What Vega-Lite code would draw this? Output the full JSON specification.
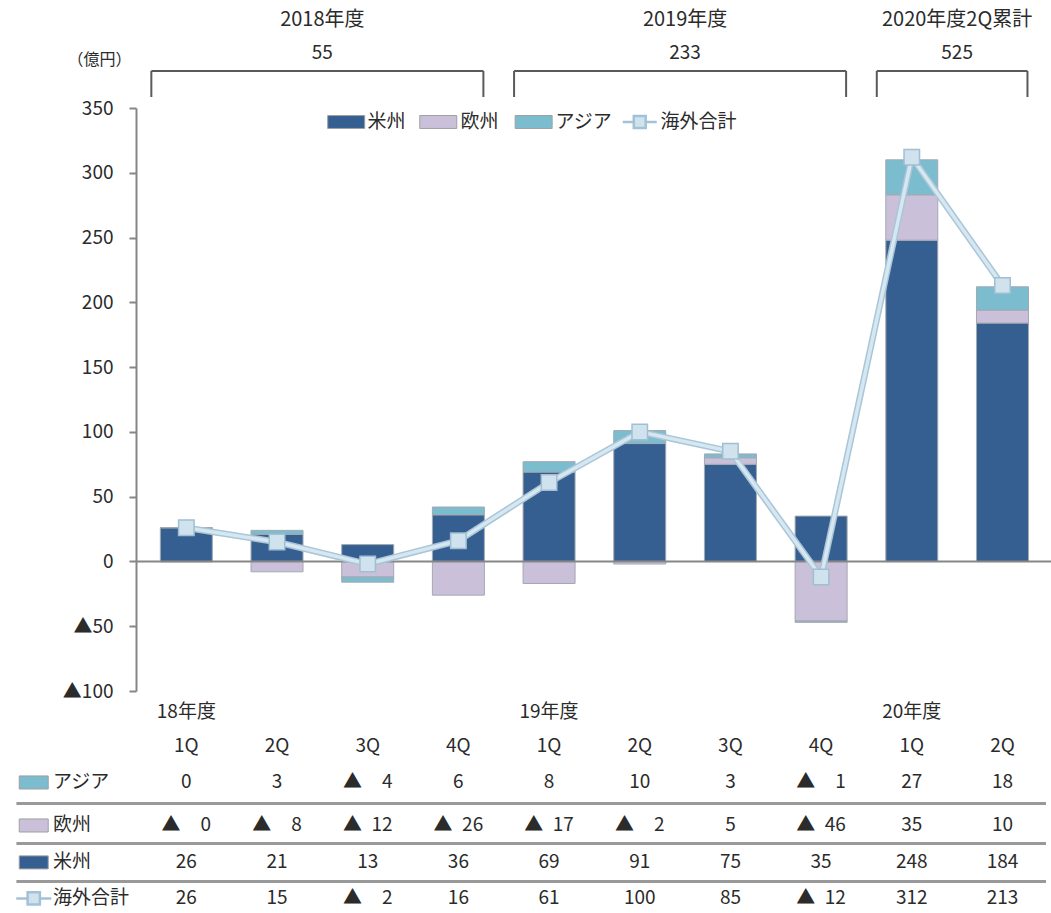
{
  "$schema": "https://vega.github.io/schema/vega-lite/v6.json",
  "width": 915,
  "height": 583,
  "autosize": {"type": "none"},
  "padding": {"left": 136, "top": 108, "right": 0, "bottom": 222},
  "background": "white",
  "config": {
    "font": "Noto Sans CJK JP",
    "view": {"stroke": null},
    "text": {"font": "Noto Sans CJK JP", "fontSize": 19, "color": "#2b2b2b", "baseline": "middle"}
  },
  "datasets": {
    "bars": [
      {"q": 1, "region": "米州", "value": 26}, {"q": 1, "region": "欧州", "value": -0.3}, {"q": 1, "region": "アジア", "value": 0},
      {"q": 2, "region": "米州", "value": 21}, {"q": 2, "region": "欧州", "value": -8}, {"q": 2, "region": "アジア", "value": 3},
      {"q": 3, "region": "米州", "value": 13}, {"q": 3, "region": "欧州", "value": -12}, {"q": 3, "region": "アジア", "value": -4},
      {"q": 4, "region": "米州", "value": 36}, {"q": 4, "region": "欧州", "value": -26}, {"q": 4, "region": "アジア", "value": 6},
      {"q": 5, "region": "米州", "value": 69}, {"q": 5, "region": "欧州", "value": -17}, {"q": 5, "region": "アジア", "value": 8},
      {"q": 6, "region": "米州", "value": 91}, {"q": 6, "region": "欧州", "value": -2}, {"q": 6, "region": "アジア", "value": 10},
      {"q": 7, "region": "米州", "value": 75}, {"q": 7, "region": "欧州", "value": 5}, {"q": 7, "region": "アジア", "value": 3},
      {"q": 8, "region": "米州", "value": 35}, {"q": 8, "region": "欧州", "value": -46}, {"q": 8, "region": "アジア", "value": -1},
      {"q": 9, "region": "米州", "value": 248}, {"q": 9, "region": "欧州", "value": 35}, {"q": 9, "region": "アジア", "value": 27},
      {"q": 10, "region": "米州", "value": 184}, {"q": 10, "region": "欧州", "value": 10}, {"q": 10, "region": "アジア", "value": 18}
    ],
    "total": [
      {"q": 1, "label": "1Q", "value": 26},
      {"q": 2, "label": "2Q", "value": 15},
      {"q": 3, "label": "3Q", "value": -2},
      {"q": 4, "label": "4Q", "value": 16},
      {"q": 5, "label": "1Q", "value": 61},
      {"q": 6, "label": "2Q", "value": 100},
      {"q": 7, "label": "3Q", "value": 85},
      {"q": 8, "label": "4Q", "value": -12},
      {"q": 9, "label": "1Q", "value": 312},
      {"q": 10, "label": "2Q", "value": 213}
    ],
    "periods": [
      {"period": "2018年度", "total": 55, "fy": "18年度", "start": 1, "end": 4},
      {"period": "2019年度", "total": 233, "fy": "19年度", "start": 5, "end": 8},
      {"period": "2020年度2Q累計", "total": 525, "fy": "20年度", "start": 9, "end": 10}
    ],
    "rows": [
      {"name": "アジア"}, {"name": "欧州"}, {"name": "米州"}, {"name": "海外合計"}
    ]
  },
  "layer": [
    {
      "data": {"name": "bars"},
      "transform": [{"calculate": "indexof(['米州','欧州','アジア'], datum.region)", "as": "k"}],
      "mark": {"type": "bar", "size": 52, "orient": "vertical", "stroke": "#a3a9b0", "strokeWidth": 1},
      "encoding": {
        "x": {"field": "q", "type": "quantitative", "scale": {"domain": [0.5, 10.48], "nice": false, "zero": false}, "axis": null},
        "y": {
          "field": "value", "type": "quantitative", "stack": "zero",
          "scale": {"domain": [-100, 350], "nice": false, "zero": false},
          "axis": {
            "values": [-100, -50, 0, 50, 100, 150, 200, 250, 300, 350],
            "labelExpr": "datum.value < 0 ? '▲' + (-datum.value) : datum.label",
            "grid": false, "domainColor": "#868686", "domainWidth": 2,
            "tickColor": "#868686", "tickWidth": 2, "tickSize": 7,
            "labelFontSize": 19, "labelColor": "#2b2b2b", "labelPadding": 16,
            "title": "（億円）", "titleAngle": 0, "titleX": -37, "titleY": -49,
            "titleAlign": "center", "titleBaseline": "middle", "titleFontSize": 16,
            "titleFontWeight": "normal", "titleColor": "#2b2b2b"
          }
        },
        "color": {
          "field": "region", "type": "nominal",
          "scale": {"domain": ["米州", "欧州", "アジア"], "range": ["#365f91", "#cbc0d9", "#7bbccf"]},
          "legend": null
        },
        "order": {"field": "k", "type": "quantitative"}
      }
    },
    {
      "data": {"name": "total"},
      "transform": [{"filter": "datum.q === 1"}],
      "mark": {"type": "rule", "color": "#868686", "strokeWidth": 2},
      "encoding": {"y": {"datum": 0, "type": "quantitative"}}
    },
    {
      "data": {"name": "total"},
      "layer": [
        {"mark": {"type": "line", "color": "#a9c6d8", "strokeWidth": 6.5}},
        {"mark": {"type": "line", "color": "#d6e7f1", "strokeWidth": 3.5}},
        {"mark": {"type": "point", "shape": "square", "size": 240, "filled": true, "fill": "#cfe2ee", "stroke": "#a0bfd3", "strokeWidth": 1.5, "opacity": 1}}
      ],
      "encoding": {
        "x": {"field": "q", "type": "quantitative", "axis": null},
        "y": {"field": "value", "type": "quantitative"}
      }
    },
    {
      "data": {"name": "periods"},
      "transform": [{"calculate": "(datum.start + datum.end) / 2", "as": "mid"}],
      "layer": [
        {
          "mark": {"type": "text", "fontSize": 20},
          "encoding": {"x": {"field": "mid", "type": "quantitative", "axis": null}, "y": {"datum": 417.9, "type": "quantitative"}, "text": {"field": "period"}}
        },
        {
          "mark": {"type": "text", "fontSize": 19},
          "encoding": {"x": {"field": "mid", "type": "quantitative", "axis": null}, "y": {"datum": 392.4, "type": "quantitative"}, "text": {"field": "total"}}
        },
        {
          "mark": {"type": "rule", "color": "#5a5a5a", "strokeWidth": 2, "xOffset": -35, "x2Offset": 25},
          "encoding": {"x": {"field": "start", "type": "quantitative", "axis": null}, "x2": {"field": "end"}, "y": {"datum": 378.6, "type": "quantitative"}}
        },
        {
          "mark": {"type": "rule", "color": "#5a5a5a", "strokeWidth": 2, "xOffset": -35},
          "encoding": {"x": {"field": "start", "type": "quantitative", "axis": null}, "y": {"datum": 378.6, "type": "quantitative"}, "y2": {"datum": 358.5}}
        },
        {
          "mark": {"type": "rule", "color": "#5a5a5a", "strokeWidth": 2, "xOffset": 25},
          "encoding": {"x": {"field": "end", "type": "quantitative", "axis": null}, "y": {"datum": 378.6, "type": "quantitative"}, "y2": {"datum": 358.5}}
        },
        {
          "mark": {"type": "text", "fontSize": 19},
          "encoding": {"x": {"field": "start", "type": "quantitative", "axis": null}, "y": {"datum": -116.5, "type": "quantitative"}, "text": {"field": "fy"}}
        }
      ]
    },
    {
      "data": {"name": "total"},
      "mark": {"type": "text", "fontSize": 19},
      "encoding": {"x": {"field": "q", "type": "quantitative", "axis": null}, "y": {"datum": -142.8, "type": "quantitative"}, "text": {"field": "label"}}
    },
    {
      "data": {"name": "bars"},
      "transform": [{"filter": "datum.region === 'アジア'"}, {"calculate": "datum.value < 0 ? '▲\u2002' + format(-datum.value, '\u2007>2.0f') : format(datum.value, '.0f')", "as": "txt"}],
      "mark": {"type": "text", "fontSize": 19},
      "encoding": {"x": {"field": "q", "type": "quantitative", "axis": null}, "y": {"datum": -170.6, "type": "quantitative"}, "text": {"field": "txt"}}
    },
    {
      "data": {"name": "bars"},
      "transform": [{"filter": "datum.region === '欧州'"}, {"calculate": "datum.value < 0 ? '▲\u2002' + format(-datum.value, '\u2007>2.0f') : format(datum.value, '.0f')", "as": "txt"}],
      "mark": {"type": "text", "fontSize": 19},
      "encoding": {"x": {"field": "q", "type": "quantitative", "axis": null}, "y": {"datum": -203.8, "type": "quantitative"}, "text": {"field": "txt"}}
    },
    {
      "data": {"name": "bars"},
      "transform": [{"filter": "datum.region === '米州'"}, {"calculate": "datum.value < 0 ? '▲\u2002' + format(-datum.value, '\u2007>2.0f') : format(datum.value, '.0f')", "as": "txt"}],
      "mark": {"type": "text", "fontSize": 19},
      "encoding": {"x": {"field": "q", "type": "quantitative", "axis": null}, "y": {"datum": -232.3, "type": "quantitative"}, "text": {"field": "txt"}}
    },
    {
      "data": {"name": "total"},
      "transform": [{"calculate": "datum.value < 0 ? '▲\u2002' + format(-datum.value, '\u2007>2.0f') : format(datum.value, '.0f')", "as": "txt"}],
      "mark": {"type": "text", "fontSize": 19},
      "encoding": {"x": {"field": "q", "type": "quantitative", "axis": null}, "y": {"datum": -260.1, "type": "quantitative"}, "text": {"field": "txt"}}
    },
    {
      "data": {"name": "rows"},
      "transform": [{"filter": "datum.name === 'アジア'"}],
      "layer": [
        {"mark": {"type": "rule", "color": "#999999", "strokeWidth": 3}, "encoding": {"x": {"datum": -0.874, "type": "quantitative", "axis": null}, "x2": {"datum": 10.48}, "y": {"datum": -186.8, "type": "quantitative"}}},
        {"mark": {"type": "rule", "color": "#999999", "strokeWidth": 3}, "encoding": {"x": {"datum": -0.874, "type": "quantitative", "axis": null}, "x2": {"datum": 10.48}, "y": {"datum": -217.7, "type": "quantitative"}}},
        {"mark": {"type": "rule", "color": "#999999", "strokeWidth": 3}, "encoding": {"x": {"datum": -0.874, "type": "quantitative", "axis": null}, "x2": {"datum": 10.48}, "y": {"datum": -247.0, "type": "quantitative"}}}
      ]
    },
    {
      "data": {"name": "rows"},
      "transform": [{"filter": "datum.name === 'アジア'"}],
      "encoding": {"y": {"datum": -170.6, "type": "quantitative"}},
      "layer": [
        {"mark": {"type": "point", "shape": "M-1,-0.45H1V0.45H-1Z", "size": 841, "filled": true, "opacity": 1, "stroke": "#a0a0a0", "strokeWidth": 1}, "encoding": {"x": {"datum": -0.683, "type": "quantitative", "axis": null}, "color": {"field": "name", "type": "nominal", "legend": null}}},
        {"mark": {"type": "text", "align": "left", "fontSize": 19}, "encoding": {"x": {"datum": -0.471, "type": "quantitative", "axis": null}, "text": {"field": "name"}}}
      ]
    },
    {
      "data": {"name": "rows"},
      "transform": [{"filter": "datum.name === '欧州'"}],
      "encoding": {"y": {"datum": -203.8, "type": "quantitative"}},
      "layer": [
        {"mark": {"type": "point", "shape": "M-1,-0.45H1V0.45H-1Z", "size": 841, "filled": true, "opacity": 1, "stroke": "#a0a0a0", "strokeWidth": 1}, "encoding": {"x": {"datum": -0.683, "type": "quantitative", "axis": null}, "color": {"field": "name", "type": "nominal", "legend": null}}},
        {"mark": {"type": "text", "align": "left", "fontSize": 19}, "encoding": {"x": {"datum": -0.471, "type": "quantitative", "axis": null}, "text": {"field": "name"}}}
      ]
    },
    {
      "data": {"name": "rows"},
      "transform": [{"filter": "datum.name === '米州'"}],
      "encoding": {"y": {"datum": -232.3, "type": "quantitative"}},
      "layer": [
        {"mark": {"type": "point", "shape": "M-1,-0.45H1V0.45H-1Z", "size": 841, "filled": true, "opacity": 1, "stroke": "#a0a0a0", "strokeWidth": 1}, "encoding": {"x": {"datum": -0.683, "type": "quantitative", "axis": null}, "color": {"field": "name", "type": "nominal", "legend": null}}},
        {"mark": {"type": "text", "align": "left", "fontSize": 19}, "encoding": {"x": {"datum": -0.471, "type": "quantitative", "axis": null}, "text": {"field": "name"}}}
      ]
    },
    {
      "data": {"name": "rows"},
      "transform": [{"filter": "datum.name === '海外合計'"}],
      "encoding": {"y": {"datum": -260.1, "type": "quantitative"}},
      "layer": [
        {"mark": {"type": "point", "shape": "M-1,0H-0.35M0.35,0H1M-0.35,-0.35H0.35V0.35H-0.35Z", "size": 1225, "filled": true, "opacity": 1, "fill": "#cfe2ee", "stroke": "#a3c2d6", "strokeWidth": 2.5}, "encoding": {"x": {"datum": -0.683, "type": "quantitative", "axis": null}}},
        {"mark": {"type": "text", "align": "left", "fontSize": 19}, "encoding": {"x": {"datum": -0.471, "type": "quantitative", "axis": null}, "text": {"field": "name"}}}
      ]
    },
    {
      "data": {"name": "rows"},
      "transform": [{"filter": "datum.name === '米州'"}],
      "encoding": {"y": {"datum": 339.2, "type": "quantitative"}},
      "layer": [
        {"mark": {"type": "point", "shape": "M-1,-0.35H1V0.35H-1Z", "size": 1369, "filled": true, "opacity": 1, "stroke": "#a0a0a0", "strokeWidth": 1}, "encoding": {"x": {"datum": 2.763, "type": "quantitative", "axis": null}, "color": {"field": "name", "type": "nominal", "legend": null}}},
        {"mark": {"type": "text", "align": "left", "fontSize": 19}, "encoding": {"x": {"datum": 2.998, "type": "quantitative", "axis": null}, "text": {"field": "name"}}}
      ]
    },
    {
      "data": {"name": "rows"},
      "transform": [{"filter": "datum.name === '欧州'"}],
      "encoding": {"y": {"datum": 339.2, "type": "quantitative"}},
      "layer": [
        {"mark": {"type": "point", "shape": "M-1,-0.35H1V0.35H-1Z", "size": 1369, "filled": true, "opacity": 1, "stroke": "#a0a0a0", "strokeWidth": 1}, "encoding": {"x": {"datum": 3.778, "type": "quantitative", "axis": null}, "color": {"field": "name", "type": "nominal", "legend": null}}},
        {"mark": {"type": "text", "align": "left", "fontSize": 19}, "encoding": {"x": {"datum": 4.023, "type": "quantitative", "axis": null}, "text": {"field": "name"}}}
      ]
    },
    {
      "data": {"name": "rows"},
      "transform": [{"filter": "datum.name === 'アジア'"}],
      "encoding": {"y": {"datum": 339.2, "type": "quantitative"}},
      "layer": [
        {"mark": {"type": "point", "shape": "M-1,-0.35H1V0.35H-1Z", "size": 1369, "filled": true, "opacity": 1, "stroke": "#a0a0a0", "strokeWidth": 1}, "encoding": {"x": {"datum": 4.83, "type": "quantitative", "axis": null}, "color": {"field": "name", "type": "nominal", "legend": null}}},
        {"mark": {"type": "text", "align": "left", "fontSize": 19}, "encoding": {"x": {"datum": 5.07, "type": "quantitative", "axis": null}, "text": {"field": "name"}}}
      ]
    },
    {
      "data": {"name": "rows"},
      "transform": [{"filter": "datum.name === '海外合計'"}],
      "encoding": {"y": {"datum": 339.2, "type": "quantitative"}},
      "layer": [
        {"mark": {"type": "point", "shape": "M-1,0H-0.35M0.35,0H1M-0.35,-0.35H0.35V0.35H-0.35Z", "size": 1156, "filled": true, "opacity": 1, "fill": "#cfe2ee", "stroke": "#a3c2d6", "strokeWidth": 2.5}, "encoding": {"x": {"datum": 6.0, "type": "quantitative", "axis": null}}},
        {"mark": {"type": "text", "align": "left", "fontSize": 19}, "encoding": {"x": {"datum": 6.23, "type": "quantitative", "axis": null}, "text": {"field": "name"}}}
      ]
    }
  ]
}
